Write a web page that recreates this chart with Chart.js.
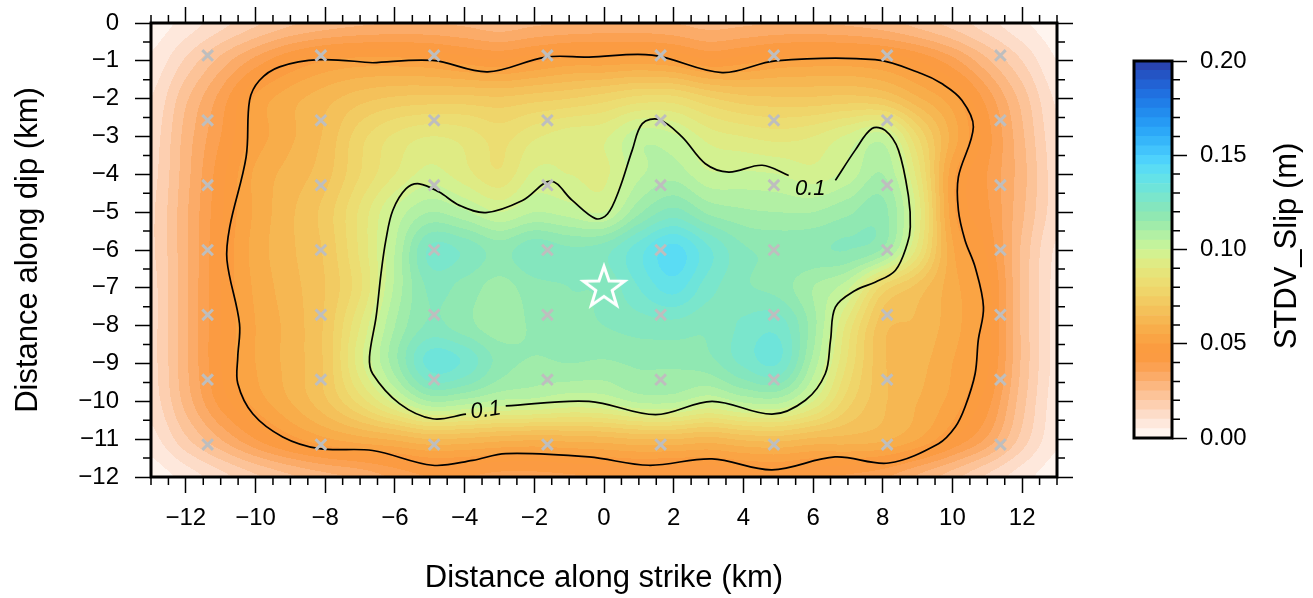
<!DOCTYPE html>
<html>
<head>
<meta charset="utf-8">
<script src="https://cdn.jsdelivr.net/npm/chart.js@4.4.1/dist/chart.umd.min.js"></script>
<style>
  body { margin: 0; background: #fff; }
  #wrap { position: relative; width: 1313px; height: 598px; }
  #slipMap { position: absolute; left: 0; top: 0; }
  #slipScale { position: absolute; left: 1100px; top: 0; }
</style>
</head>
<body>
<div id="wrap">
  <canvas id="slipMap" width="1100" height="598"></canvas>
  <canvas id="slipScale" width="213" height="598"></canvas>
</div>
<script>
// grid of STDV slip (m), 1 km spacing
const gridX = [-13, -12, -11, -10, -9, -8, -7, -6, -5, -4, -3, -2, -1, 0, 1, 2, 3, 4, 5, 6, 7, 8, 9, 10, 11, 12, 13];
const gridY = [0, -1, -2, -3, -4, -5, -6, -7, -8, -9, -10, -11, -12];
const stdvSlip = [
  [0.002,0.007,0.013,0.019,0.024,0.027,0.029,0.030,0.030,0.029,0.027,0.029,0.030,0.031,0.031,0.030,0.028,0.029,0.030,0.030,0.029,0.027,0.023,0.018,0.012,0.006,0.002],
  [0.006,0.016,0.027,0.037,0.045,0.050,0.052,0.052,0.051,0.048,0.046,0.049,0.052,0.052,0.053,0.051,0.046,0.048,0.051,0.052,0.052,0.050,0.045,0.037,0.026,0.015,0.005],
  [0.010,0.024,0.037,0.051,0.058,0.063,0.068,0.071,0.072,0.072,0.071,0.073,0.075,0.078,0.082,0.082,0.076,0.072,0.071,0.071,0.072,0.070,0.061,0.052,0.038,0.023,0.009],
  [0.012,0.027,0.040,0.052,0.059,0.066,0.078,0.086,0.090,0.088,0.083,0.089,0.093,0.094,0.103,0.101,0.093,0.090,0.088,0.090,0.096,0.102,0.080,0.058,0.042,0.026,0.011],
  [0.013,0.028,0.043,0.056,0.062,0.068,0.080,0.090,0.097,0.092,0.086,0.096,0.095,0.094,0.104,0.108,0.101,0.101,0.100,0.097,0.102,0.110,0.088,0.052,0.040,0.027,0.012],
  [0.014,0.029,0.044,0.056,0.064,0.072,0.086,0.101,0.110,0.106,0.100,0.105,0.103,0.100,0.114,0.122,0.114,0.111,0.110,0.110,0.114,0.117,0.093,0.052,0.041,0.026,0.012],
  [0.014,0.029,0.045,0.057,0.064,0.071,0.086,0.105,0.126,0.124,0.118,0.124,0.121,0.123,0.133,0.142,0.131,0.121,0.119,0.119,0.120,0.114,0.088,0.056,0.044,0.024,0.009],
  [0.013,0.029,0.045,0.056,0.063,0.070,0.084,0.106,0.121,0.118,0.113,0.118,0.120,0.121,0.130,0.137,0.127,0.121,0.118,0.110,0.101,0.078,0.068,0.057,0.047,0.024,0.008],
  [0.013,0.029,0.045,0.055,0.062,0.071,0.090,0.110,0.121,0.117,0.112,0.116,0.118,0.120,0.122,0.123,0.121,0.126,0.128,0.112,0.088,0.067,0.064,0.057,0.047,0.024,0.008],
  [0.013,0.029,0.045,0.055,0.062,0.071,0.093,0.113,0.132,0.129,0.118,0.114,0.115,0.114,0.116,0.116,0.118,0.126,0.130,0.108,0.084,0.066,0.062,0.055,0.046,0.024,0.008],
  [0.012,0.027,0.042,0.052,0.060,0.069,0.082,0.097,0.110,0.108,0.104,0.103,0.100,0.101,0.106,0.106,0.101,0.106,0.107,0.095,0.077,0.066,0.060,0.053,0.042,0.022,0.007],
  [0.008,0.019,0.030,0.040,0.048,0.054,0.058,0.061,0.065,0.064,0.062,0.061,0.062,0.063,0.065,0.065,0.063,0.066,0.067,0.064,0.063,0.061,0.055,0.045,0.034,0.018,0.006],
  [0.002,0.007,0.013,0.019,0.024,0.028,0.031,0.036,0.040,0.040,0.038,0.038,0.039,0.040,0.041,0.040,0.040,0.042,0.043,0.040,0.039,0.036,0.029,0.022,0.014,0.007,0.002]
];

// contour lines (km)
const outerContour = [
  {x:-6.64,y:-1.05},{x:-4.92,y:-0.99},{x:-3.34,y:-1.29},{x:-1.67,y:-0.90},{x:-0.43,y:-0.90},
  {x:1.38,y:-0.85},{x:3.39,y:-1.31},{x:4.92,y:-1.00},{x:7.78,y:-0.97},{x:9.12,y:-1.34},
  {x:9.69,y:-1.60},{x:10.27,y:-2.04},{x:10.60,y:-2.75},{x:10.17,y:-4.07},{x:10.17,y:-4.95},
  {x:10.36,y:-5.74},{x:10.65,y:-6.45},{x:10.89,y:-7.51},{x:10.74,y:-8.39},{x:10.65,y:-9.27},
  {x:10.36,y:-10.15},{x:10.08,y:-10.68},{x:9.60,y:-11.12},{x:8.17,y:-11.63},{x:6.63,y:-11.47},
  {x:4.82,y:-11.81},{x:3.10,y:-11.52},{x:1.29,y:-11.69},{x:-0.43,y:-11.47},{x:-2.82,y:-11.38},
  {x:-3.77,y:-11.56},{x:-4.92,y:-11.69},{x:-6.64,y:-11.30},{x:-8.17,y:-11.25},{x:-9.22,y:-10.94},
  {x:-10.08,y:-10.33},{x:-10.51,y:-9.53},{x:-10.51,y:-8.83},{x:-10.46,y:-7.95},{x:-10.82,y:-6.27},
  {x:-10.74,y:-5.39},{x:-10.27,y:-3.54},{x:-10.17,y:-2.04},{x:-9.89,y:-1.52},{x:-9.31,y:-1.16},
  {x:-8.17,y:-0.97},{x:-6.64,y:-1.05}
];
const innerContourA = [
  {x:6.64,y:-4.16},{x:7.21,y:-3.36},{x:7.69,y:-2.79},{x:8.07,y:-2.84},{x:8.45,y:-3.36},
  {x:8.74,y:-4.60},{x:8.79,y:-5.39},{x:8.70,y:-5.85},{x:8.36,y:-6.54},{x:7.78,y:-6.85},
  {x:7.21,y:-7.07},{x:6.64,y:-7.51},{x:6.50,y:-8.39},{x:6.35,y:-9.27},{x:5.78,y:-9.97},
  {x:4.82,y:-10.34},{x:3.10,y:-10.00},{x:1.48,y:-10.35},{x:-0.43,y:-10.00},{x:-2.82,y:-10.12}
];
const innerContourB = [
  {x:-3.96,y:-10.34},{x:-4.92,y:-10.46},{x:-5.87,y:-10.06},{x:-6.64,y:-9.27},{x:-6.73,y:-8.83},
  {x:-6.54,y:-7.77},{x:-6.40,y:-6.63},{x:-6.26,y:-5.74},{x:-6.06,y:-4.95},{x:-5.68,y:-4.38},
  {x:-5.30,y:-4.25},{x:-4.73,y:-4.47},{x:-4.15,y:-4.82},{x:-3.39,y:-5.01},{x:-2.34,y:-4.69},
  {x:-1.53,y:-4.18},{x:-0.91,y:-4.69},{x:-0.24,y:-5.17},{x:0.10,y:-5.05},{x:0.43,y:-4.42},
  {x:0.81,y:-3.36},{x:1.10,y:-2.66},{x:1.58,y:-2.55},{x:2.24,y:-3.01},{x:2.91,y:-3.72},
  {x:3.58,y:-3.94},{x:4.54,y:-3.76},{x:5.30,y:-4.03}
];
const contourLabels = [
  {x:5.92, y:-4.38, text:'0.1', angle:0},
  {x:-3.39, y:-10.24, text:'0.1', angle:-8}
];

// sub-fault centres and hypocentre
const subfaultX = [-11.375, -8.125, -4.875, -1.625, 1.625, 4.875, 8.125, 11.375];
const subfaultY = [-0.857, -2.571, -4.286, -6.0, -7.714, -9.429, -11.143];
const hypocentre = [{x:0, y:-7}];

// axes ticks
const xMajorTicks = [-12, -10, -8, -6, -4, -2, 0, 2, 4, 6, 8, 10, 12];
const yMajorTicks = [0, -1, -2, -3, -4, -5, -6, -7, -8, -9, -10, -11, -12];
const minorStep = 0.5;

// colour scale
const slipStep = 0.005;
const scaleTicks = [0, 0.05, 0.10, 0.15, 0.20];
const scaleMinorStep = 0.01;
const slipColors = [
  '#fff5ef','#fee8dc','#fddcc8','#fdcfb0','#fcc398','#fcb780','#fbab68','#fba152','#fb9b42','#fb9c40',
  '#faa444','#f8ad4a','#f6b752','#f4c15a','#f2cb62','#efd56a','#ecdd72','#e6e47a','#dfeb84','#d3f190',
  '#c3f39c','#b2f0a4','#a0ecaa','#90e8b2','#84e6be','#7ae6cc','#6ee4da','#64e2e8','#5adcf4','#4ed2fc',
  '#42c4fc','#36b6fa','#2ca8f8','#269af4','#228cee','#207ee8','#2070e0','#2262d4','#2454c4','#2844b0'
];

const FONT = "'Liberation Sans', Arial, Helvetica, sans-serif";
Chart.defaults.font.family = FONT;
Chart.defaults.color = '#000';

const fmtKm = v => v < 0 ? '\u2212' + Math.abs(v) : String(v);

function bicubic(grid, gx, gy) {
  const ny = grid.length, nx = grid[0].length;
  const ix = Math.floor(gx), iy = Math.floor(gy);
  const fx = gx - ix, fy = gy - iy;
  const col = i => Math.min(nx - 1, Math.max(0, i));
  const row = j => Math.min(ny - 1, Math.max(0, j));
  const cr = (p0, p1, p2, p3, t) =>
    p1 + 0.5 * t * (p2 - p0 + t * (2 * p0 - 5 * p1 + 4 * p2 - p3 + t * (3 * (p1 - p2) + p3 - p0)));
  const r = [];
  for (let m = -1; m <= 2; m++) {
    const g = grid[row(iy + m)];
    r.push(cr(g[col(ix - 1)], g[col(ix)], g[col(ix + 1)], g[col(ix + 2)], fx));
  }
  return cr(r[0], r[1], r[2], r[3], fy);
}

const rgbColors = slipColors.map(h => [parseInt(h.slice(1, 3), 16), parseInt(h.slice(3, 5), 16), parseInt(h.slice(5, 7), 16)]);

const slipField = {
  id: 'slipField',
  beforeDatasetsDraw(chart) {
    const {ctx, scales: {x, y}} = chart;
    const left = Math.round(x.getPixelForValue(gridX[0]));
    const right = Math.round(x.getPixelForValue(gridX[gridX.length - 1]));
    const top = Math.round(y.getPixelForValue(gridY[0]));
    const bottom = Math.round(y.getPixelForValue(gridY[gridY.length - 1]));
    const w = right - left, h = bottom - top;
    const off = document.createElement('canvas');
    off.width = w; off.height = h;
    const octx = off.getContext('2d');
    const img = octx.createImageData(w, h);
    const gxs = [];
    for (let i = 0; i < w; i++) {
      gxs.push((x.getValueForPixel(left + i + 0.5) - gridX[0]) / (gridX[1] - gridX[0]));
    }
    for (let j = 0; j < h; j++) {
      const gy = (gridY[0] - y.getValueForPixel(top + j + 0.5)) / (gridY[0] - gridY[1]);
      for (let i = 0; i < w; i++) {
        const v = bicubic(stdvSlip, gxs[i], gy);
        let k = Math.floor(v / slipStep + 1e-9);
        k = Math.max(0, Math.min(rgbColors.length - 1, k));
        const c = rgbColors[k];
        const p = (j * w + i) * 4;
        img.data[p] = c[0]; img.data[p + 1] = c[1]; img.data[p + 2] = c[2]; img.data[p + 3] = 255;
      }
    }
    octx.putImageData(img, 0, 0);
    ctx.drawImage(off, left, top);
  },
  afterDatasetsDraw(chart) {
    const {ctx, scales: {x, y}} = chart;
    ctx.save();
    ctx.font = 'italic 22px ' + FONT;
    ctx.fillStyle = '#000';
    ctx.textAlign = 'center';
    ctx.textBaseline = 'middle';
    contourLabels.forEach(l => {
      ctx.save();
      ctx.translate(x.getPixelForValue(l.x), y.getPixelForValue(l.y));
      ctx.rotate(l.angle * Math.PI / 180);
      ctx.fillText(l.text, 0, 0);
      ctx.restore();
    });
    ctx.restore();
  },
  afterDraw(chart) {
    const {ctx, chartArea: a, scales: {x, y}} = chart;
    ctx.save();
    ctx.strokeStyle = '#000';
    ctx.lineWidth = 1.5;
    ctx.beginPath();
    for (let v = x.min; v <= x.max + 1e-9; v += minorStep) {
      if (xMajorTicks.some(t => Math.abs(t - v) < 1e-6)) continue;
      const px = x.getPixelForValue(v);
      ctx.moveTo(px, a.bottom); ctx.lineTo(px, a.bottom + 8);
      ctx.moveTo(px, a.top); ctx.lineTo(px, a.top - 8);
    }
    for (let v = y.max; v >= y.min - 1e-9; v -= minorStep) {
      if (yMajorTicks.some(t => Math.abs(t - v) < 1e-6)) continue;
      const py = y.getPixelForValue(v);
      ctx.moveTo(a.left, py); ctx.lineTo(a.left - 8, py);
      ctx.moveTo(a.right, py); ctx.lineTo(a.right + 8, py);
    }
    ctx.stroke();
    ctx.lineWidth = 3;
    ctx.strokeRect(a.left, a.top, a.right - a.left, a.bottom - a.top);
    ctx.restore();
  }
};

function makeStar() {
  const c = document.createElement('canvas');
  c.width = 52; c.height = 52;
  const g = c.getContext('2d');
  g.beginPath();
  for (let i = 0; i < 10; i++) {
    const r = i % 2 ? 8.6 : 21.5;
    const ang = -Math.PI / 2 + i * Math.PI / 5;
    const px = 26 + r * Math.cos(ang), py = 26 + r * Math.sin(ang);
    if (i) g.lineTo(px, py); else g.moveTo(px, py);
  }
  g.closePath();
  g.strokeStyle = '#fff';
  g.lineWidth = 3;
  g.lineJoin = 'miter';
  g.stroke();
  return c;
}

const subfaults = [];
subfaultY.forEach(yv => subfaultX.forEach(xv => subfaults.push({x: xv, y: yv})));

const contourStyle = {showLine: true, tension: 0.35, borderColor: '#000', borderWidth: 1.7, pointRadius: 0, fill: false};

const axisGrid = {drawOnChartArea: false, drawTicks: true, tickLength: 16, tickWidth: 1.5, tickColor: '#000'};
const noPad = s => { s.paddingTop = 0; s.paddingBottom = 0; s.paddingLeft = 0; s.paddingRight = 0; };

new Chart(document.getElementById('slipMap'), {
  type: 'scatter',
  data: {
    datasets: [
      {label: 'Hypocentre', data: hypocentre, pointStyle: makeStar(), pointRadius: 10},
      {label: 'Sub-faults', data: subfaults, pointStyle: 'crossRot', pointRadius: 7.5,
       borderColor: '#bebebe', backgroundColor: '#bebebe', borderWidth: 3},
      Object.assign({label: '0.1 a', data: innerContourA}, contourStyle),
      Object.assign({label: '0.1 b', data: innerContourB}, contourStyle),
      Object.assign({label: '0.05', data: outerContour}, contourStyle)
    ]
  },
  options: {
    responsive: false,
    animation: false,
    events: [],
    layout: {padding: 0},
    plugins: {legend: {display: false}, tooltip: {enabled: false}},
    scales: {
      x: {
        type: 'linear', position: 'bottom', min: -13, max: 13,
        afterBuildTicks: s => { s.ticks = xMajorTicks.map(v => ({value: v})); },
        afterFit: s => { s.height = 121; noPad(s); },
        grid: axisGrid,
        border: {display: false},
        ticks: {autoSkip: false, maxRotation: 0, padding: 11, font: {size: 24}, callback: fmtKm},
        title: {display: true, text: 'Distance along strike (km)', font: {size: 31}, padding: {top: 0, bottom: 1}}
      },
      xTop: {
        type: 'linear', position: 'top', min: -13, max: 13,
        afterBuildTicks: s => { s.ticks = xMajorTicks.map(v => ({value: v})); },
        afterFit: s => { s.height = 23; noPad(s); },
        grid: axisGrid,
        border: {display: false},
        ticks: {display: false}
      },
      y: {
        type: 'linear', position: 'left', min: -12, max: 0,
        afterBuildTicks: s => { s.ticks = yMajorTicks.map(v => ({value: v})); },
        afterFit: s => { s.width = 151; noPad(s); },
        grid: axisGrid,
        border: {display: false},
        ticks: {autoSkip: false, padding: 16, font: {size: 24}, callback: fmtKm},
        title: {display: true, text: 'Distance along dip (km)', font: {size: 31}, padding: {top: 10, bottom: 0}}
      },
      yRight: {
        type: 'linear', position: 'right', min: -12, max: 0,
        afterBuildTicks: s => { s.ticks = yMajorTicks.map(v => ({value: v})); },
        afterFit: s => { s.width = 43; noPad(s); },
        grid: axisGrid,
        border: {display: false},
        ticks: {display: false}
      }
    }
  },
  plugins: [slipField]
});

const scaleDecor = {
  id: 'scaleDecor',
  afterDraw(chart) {
    const {ctx, chartArea: a, scales: {y}} = chart;
    ctx.save();
    ctx.strokeStyle = '#000';
    ctx.lineWidth = 1.5;
    ctx.beginPath();
    for (let v = y.min; v <= y.max + 1e-9; v += scaleMinorStep) {
      if (scaleTicks.some(t => Math.abs(t - v) < 1e-6)) continue;
      const py = y.getPixelForValue(v);
      ctx.moveTo(a.right, py); ctx.lineTo(a.right + 8, py);
    }
    ctx.stroke();
    ctx.lineWidth = 3;
    ctx.strokeRect(a.left, a.top, a.right - a.left, a.bottom - a.top);
    ctx.translate(187.5, 246);
    ctx.rotate(-Math.PI / 2);
    ctx.font = '31px ' + FONT;
    ctx.fillStyle = '#000';
    ctx.textAlign = 'center';
    ctx.textBaseline = 'middle';
    ctx.fillText('STDV_Slip (m)', 0, 0);
    ctx.restore();
  }
};

new Chart(document.getElementById('slipScale'), {
  type: 'bar',
  data: {
    labels: [''],
    datasets: slipColors.map((c, i) => ({
      data: [[i * slipStep, (i + 1) * slipStep]],
      backgroundColor: c, borderWidth: 0, grouped: false,
      barPercentage: 1, categoryPercentage: 1
    }))
  },
  options: {
    responsive: false,
    animation: false,
    events: [],
    layout: {padding: {left: 34, top: 61, bottom: 160, right: 0}},
    plugins: {legend: {display: false}, tooltip: {enabled: false}},
    scales: {
      x: {display: false},
      y: {
        position: 'right', min: 0, max: 0.2,
        afterBuildTicks: s => { s.ticks = scaleTicks.map(v => ({value: v})); },
        afterFit: s => { s.width = 141; noPad(s); },
        grid: {drawOnChartArea: false, drawTicks: true, tickLength: 15, tickWidth: 1.5, tickColor: '#000'},
        border: {display: false},
        ticks: {padding: 13, font: {size: 24}, callback: v => v.toFixed(2)}
      }
    }
  },
  plugins: [scaleDecor]
});
</script>
</body>
</html>
